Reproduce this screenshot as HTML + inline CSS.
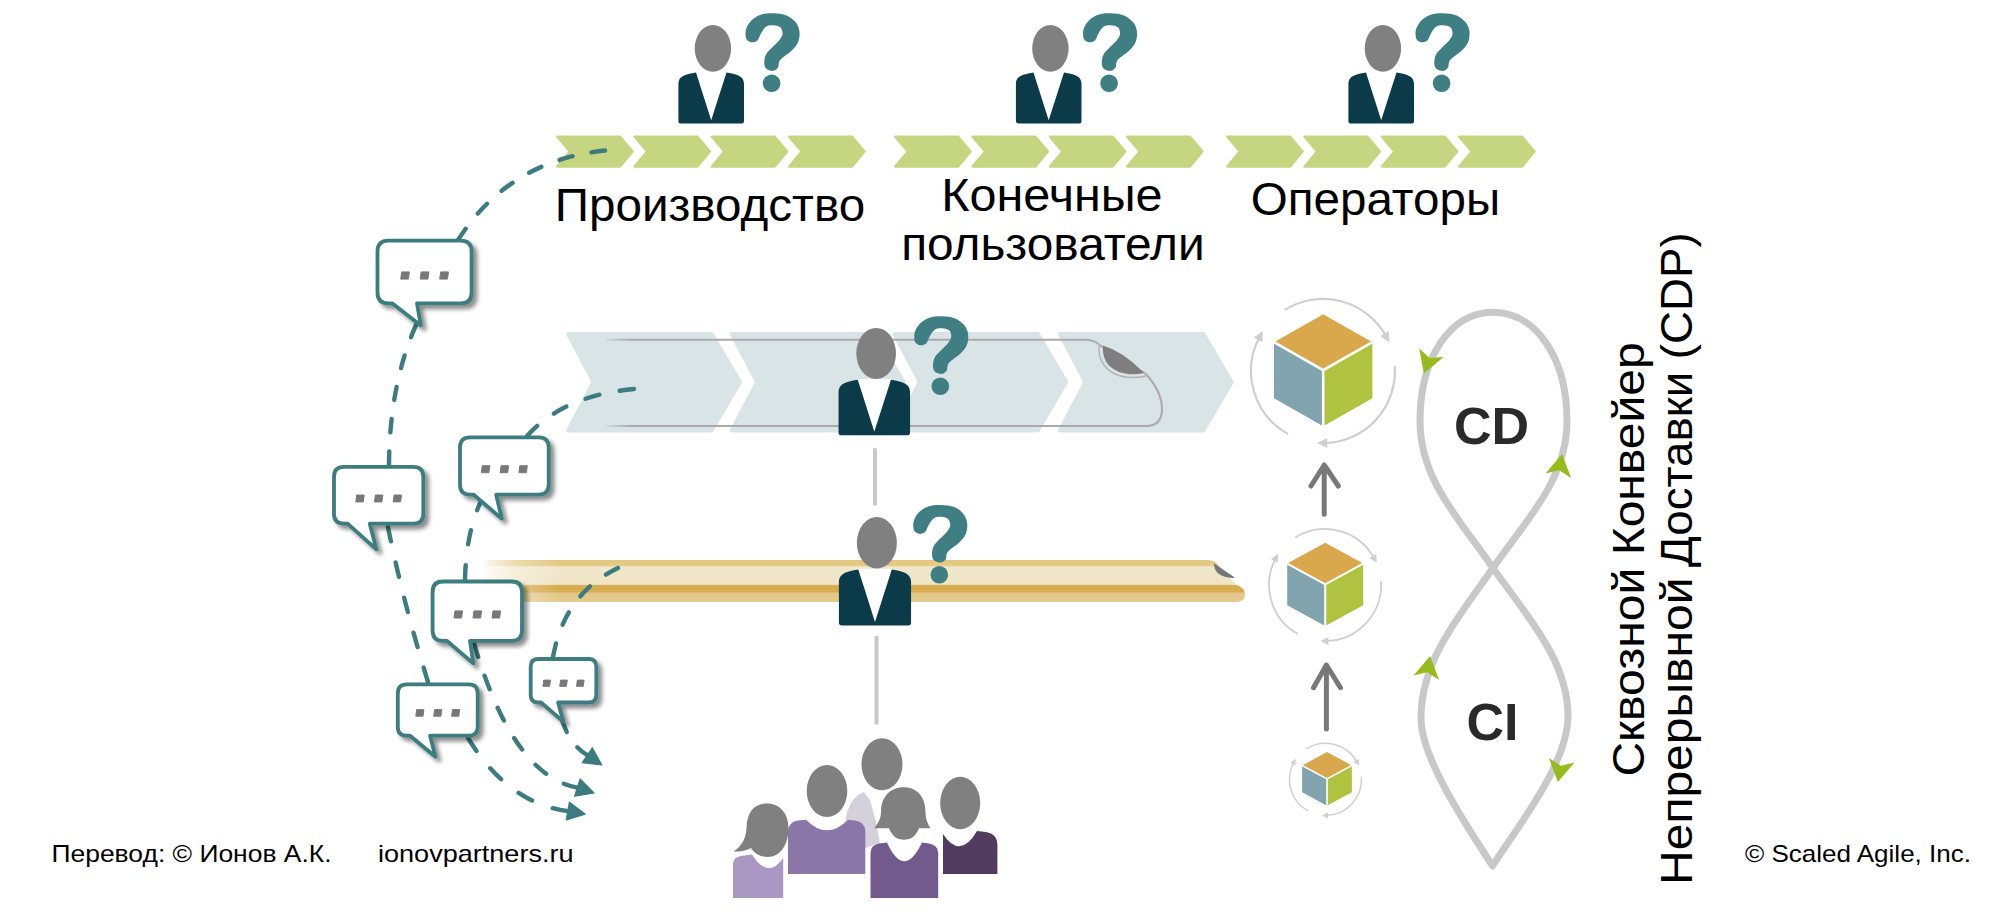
<!DOCTYPE html><html><head><meta charset="utf-8"><style>html,body{margin:0;padding:0;background:#fff;overflow:hidden}svg{display:block}text{font-family:"Liberation Sans",sans-serif}</style></head><body>
<svg width="2000" height="917" viewBox="0 0 2000 917">
<defs><filter id="sh" x="-20%" y="-20%" width="150%" height="150%"><feGaussianBlur in="SourceAlpha" stdDeviation="2.2"/><feOffset dx="3.5" dy="3.5" result="b"/><feComponentTransfer><feFuncA type="linear" slope="0.45"/></feComponentTransfer><feMerge><feMergeNode/><feMergeNode in="SourceGraphic"/></feMerge></filter><linearGradient id="fadeL" x1="0" x2="1"><stop offset="0" stop-color="#fff" stop-opacity="1"/><stop offset="1" stop-color="#fff" stop-opacity="0"/></linearGradient></defs>
<g transform="translate(712.3,48.4) scale(1.0)"><polygon points="-16.5,23.5 -1.1,72 14.4,23.5" fill="#fff"/><ellipse cx="0.6" cy="0" rx="18.2" ry="23.4" fill="#808080"/><path d="M -33.9,35.5 C -33.9,28.5 -28,26 -16.3,24.2 L -1.1,71.9 L 14.2,24.2 C 26,26 31.7,28.5 31.7,35.5 L 31.7,72.5 Q 31.7,75.1 29,75.1 L -31.2,75.1 Q -33.9,75.1 -33.9,72.5 Z" fill="#0b3a49"/></g>
<g transform="translate(745.3,12.8) scale(1.0)"><path d="M 0.40,23.30 C 0.22,21.40 -0.05,18.60 0.90,16.00 C 1.85,13.40 3.68,10.03 6.10,7.70 C 8.52,5.37 11.78,3.20 15.40,2.00 C 19.02,0.80 23.48,0.40 27.80,0.50 C 32.12,0.60 37.50,1.05 41.30,2.60 C 45.10,4.15 48.45,7.05 50.60,9.80 C 52.75,12.55 53.85,15.82 54.20,19.10 C 54.55,22.38 53.98,26.38 52.70,29.50 C 51.42,32.62 49.27,35.05 46.50,37.80 C 43.73,40.55 38.27,43.93 36.10,46.00 C 33.93,48.07 34.02,48.82 33.50,50.20 C 32.98,51.58 33.60,53.10 33.00,54.30 C 32.40,55.50 31.10,56.78 29.90,57.40 C 28.70,58.02 27.35,58.33 25.80,58.00 C 24.25,57.67 21.73,56.70 20.60,55.40 C 19.47,54.10 19.00,52.45 19.00,50.20 C 19.00,47.95 19.30,44.48 20.60,41.90 C 21.90,39.32 24.57,37.12 26.80,34.70 C 29.03,32.28 32.27,29.65 34.00,27.40 C 35.73,25.15 37.02,23.35 37.20,21.20 C 37.38,19.05 36.67,15.97 35.10,14.50 C 33.53,13.03 30.22,12.48 27.80,12.40 C 25.38,12.32 22.67,12.53 20.60,14.00 C 18.53,15.47 16.78,18.97 15.40,21.20 C 14.02,23.43 13.68,26.02 12.30,27.40 C 10.92,28.78 8.82,29.50 7.10,29.50 C 5.38,29.50 3.12,28.43 2.00,27.40 C 0.88,26.37 0.58,25.20 0.40,23.30 Z" fill="#3f7e82"/><circle cx="26.3" cy="70.4" r="8.8" fill="#3f7e82"/></g>
<polygon points="557.3,136.7 620.1,136.7 632.6,151.6 620.1,166.6 557.3,166.6 569.8,151.6" fill="#c6d580" stroke="#c6d580" stroke-width="2.4" stroke-linejoin="round"/><polygon points="634.6,136.7 697.4,136.7 709.9,151.6 697.4,166.6 634.6,166.6 647.1,151.6" fill="#c6d580" stroke="#c6d580" stroke-width="2.4" stroke-linejoin="round"/><polygon points="711.9,136.7 774.7,136.7 787.2,151.6 774.7,166.6 711.9,166.6 724.4,151.6" fill="#c6d580" stroke="#c6d580" stroke-width="2.4" stroke-linejoin="round"/><polygon points="789.2,136.7 852.0,136.7 864.5,151.6 852.0,166.6 789.2,166.6 801.7,151.6" fill="#c6d580" stroke="#c6d580" stroke-width="2.4" stroke-linejoin="round"/>
<g transform="translate(1049.8,48.4) scale(1.0)"><polygon points="-16.5,23.5 -1.1,72 14.4,23.5" fill="#fff"/><ellipse cx="0.6" cy="0" rx="18.2" ry="23.4" fill="#808080"/><path d="M -33.9,35.5 C -33.9,28.5 -28,26 -16.3,24.2 L -1.1,71.9 L 14.2,24.2 C 26,26 31.7,28.5 31.7,35.5 L 31.7,72.5 Q 31.7,75.1 29,75.1 L -31.2,75.1 Q -33.9,75.1 -33.9,72.5 Z" fill="#0b3a49"/></g>
<g transform="translate(1082.8,12.8) scale(1.0)"><path d="M 0.40,23.30 C 0.22,21.40 -0.05,18.60 0.90,16.00 C 1.85,13.40 3.68,10.03 6.10,7.70 C 8.52,5.37 11.78,3.20 15.40,2.00 C 19.02,0.80 23.48,0.40 27.80,0.50 C 32.12,0.60 37.50,1.05 41.30,2.60 C 45.10,4.15 48.45,7.05 50.60,9.80 C 52.75,12.55 53.85,15.82 54.20,19.10 C 54.55,22.38 53.98,26.38 52.70,29.50 C 51.42,32.62 49.27,35.05 46.50,37.80 C 43.73,40.55 38.27,43.93 36.10,46.00 C 33.93,48.07 34.02,48.82 33.50,50.20 C 32.98,51.58 33.60,53.10 33.00,54.30 C 32.40,55.50 31.10,56.78 29.90,57.40 C 28.70,58.02 27.35,58.33 25.80,58.00 C 24.25,57.67 21.73,56.70 20.60,55.40 C 19.47,54.10 19.00,52.45 19.00,50.20 C 19.00,47.95 19.30,44.48 20.60,41.90 C 21.90,39.32 24.57,37.12 26.80,34.70 C 29.03,32.28 32.27,29.65 34.00,27.40 C 35.73,25.15 37.02,23.35 37.20,21.20 C 37.38,19.05 36.67,15.97 35.10,14.50 C 33.53,13.03 30.22,12.48 27.80,12.40 C 25.38,12.32 22.67,12.53 20.60,14.00 C 18.53,15.47 16.78,18.97 15.40,21.20 C 14.02,23.43 13.68,26.02 12.30,27.40 C 10.92,28.78 8.82,29.50 7.10,29.50 C 5.38,29.50 3.12,28.43 2.00,27.40 C 0.88,26.37 0.58,25.20 0.40,23.30 Z" fill="#3f7e82"/><circle cx="26.3" cy="70.4" r="8.8" fill="#3f7e82"/></g>
<polygon points="895.3,136.7 958.1,136.7 970.6,151.6 958.1,166.6 895.3,166.6 907.8,151.6" fill="#c6d580" stroke="#c6d580" stroke-width="2.4" stroke-linejoin="round"/><polygon points="972.6,136.7 1035.4,136.7 1047.9,151.6 1035.4,166.6 972.6,166.6 985.1,151.6" fill="#c6d580" stroke="#c6d580" stroke-width="2.4" stroke-linejoin="round"/><polygon points="1049.9,136.7 1112.7,136.7 1125.2,151.6 1112.7,166.6 1049.9,166.6 1062.4,151.6" fill="#c6d580" stroke="#c6d580" stroke-width="2.4" stroke-linejoin="round"/><polygon points="1127.2,136.7 1190.0,136.7 1202.5,151.6 1190.0,166.6 1127.2,166.6 1139.7,151.6" fill="#c6d580" stroke="#c6d580" stroke-width="2.4" stroke-linejoin="round"/>
<g transform="translate(1382.3,48.4) scale(1.0)"><polygon points="-16.5,23.5 -1.1,72 14.4,23.5" fill="#fff"/><ellipse cx="0.6" cy="0" rx="18.2" ry="23.4" fill="#808080"/><path d="M -33.9,35.5 C -33.9,28.5 -28,26 -16.3,24.2 L -1.1,71.9 L 14.2,24.2 C 26,26 31.7,28.5 31.7,35.5 L 31.7,72.5 Q 31.7,75.1 29,75.1 L -31.2,75.1 Q -33.9,75.1 -33.9,72.5 Z" fill="#0b3a49"/></g>
<g transform="translate(1415.3,12.8) scale(1.0)"><path d="M 0.40,23.30 C 0.22,21.40 -0.05,18.60 0.90,16.00 C 1.85,13.40 3.68,10.03 6.10,7.70 C 8.52,5.37 11.78,3.20 15.40,2.00 C 19.02,0.80 23.48,0.40 27.80,0.50 C 32.12,0.60 37.50,1.05 41.30,2.60 C 45.10,4.15 48.45,7.05 50.60,9.80 C 52.75,12.55 53.85,15.82 54.20,19.10 C 54.55,22.38 53.98,26.38 52.70,29.50 C 51.42,32.62 49.27,35.05 46.50,37.80 C 43.73,40.55 38.27,43.93 36.10,46.00 C 33.93,48.07 34.02,48.82 33.50,50.20 C 32.98,51.58 33.60,53.10 33.00,54.30 C 32.40,55.50 31.10,56.78 29.90,57.40 C 28.70,58.02 27.35,58.33 25.80,58.00 C 24.25,57.67 21.73,56.70 20.60,55.40 C 19.47,54.10 19.00,52.45 19.00,50.20 C 19.00,47.95 19.30,44.48 20.60,41.90 C 21.90,39.32 24.57,37.12 26.80,34.70 C 29.03,32.28 32.27,29.65 34.00,27.40 C 35.73,25.15 37.02,23.35 37.20,21.20 C 37.38,19.05 36.67,15.97 35.10,14.50 C 33.53,13.03 30.22,12.48 27.80,12.40 C 25.38,12.32 22.67,12.53 20.60,14.00 C 18.53,15.47 16.78,18.97 15.40,21.20 C 14.02,23.43 13.68,26.02 12.30,27.40 C 10.92,28.78 8.82,29.50 7.10,29.50 C 5.38,29.50 3.12,28.43 2.00,27.40 C 0.88,26.37 0.58,25.20 0.40,23.30 Z" fill="#3f7e82"/><circle cx="26.3" cy="70.4" r="8.8" fill="#3f7e82"/></g>
<polygon points="1227.3,136.7 1290.1,136.7 1302.6,151.6 1290.1,166.6 1227.3,166.6 1239.8,151.6" fill="#c6d580" stroke="#c6d580" stroke-width="2.4" stroke-linejoin="round"/><polygon points="1304.6,136.7 1367.4,136.7 1379.9,151.6 1367.4,166.6 1304.6,166.6 1317.1,151.6" fill="#c6d580" stroke="#c6d580" stroke-width="2.4" stroke-linejoin="round"/><polygon points="1381.9,136.7 1444.7,136.7 1457.2,151.6 1444.7,166.6 1381.9,166.6 1394.4,151.6" fill="#c6d580" stroke="#c6d580" stroke-width="2.4" stroke-linejoin="round"/><polygon points="1459.2,136.7 1522.0,136.7 1534.5,151.6 1522.0,166.6 1459.2,166.6 1471.7,151.6" fill="#c6d580" stroke="#c6d580" stroke-width="2.4" stroke-linejoin="round"/>
<text x="554.7" y="220.9" font-size="46" textLength="310.5" lengthAdjust="spacingAndGlyphs">Производство</text>
<text x="941.2" y="210.7" font-size="46" textLength="221.4" lengthAdjust="spacingAndGlyphs">Конечные</text>
<text x="901.2" y="259.8" font-size="46" textLength="303.4" lengthAdjust="spacingAndGlyphs">пользователи</text>
<text x="1250.8" y="215" font-size="46" textLength="249.4" lengthAdjust="spacingAndGlyphs">Операторы</text>
<polygon points="568.0999999999999,334 711.5999999999999,334 740.0,382 711.5999999999999,430.5 568.0999999999999,430.5 593.5999999999999,382" fill="#d9e4e7" stroke="#d9e4e7" stroke-width="4" stroke-linejoin="round"/>
<polygon points="731.6999999999999,334 875.2,334 903.5999999999999,382 875.2,430.5 731.6999999999999,430.5 757.1999999999999,382" fill="#d9e4e7" stroke="#d9e4e7" stroke-width="4" stroke-linejoin="round"/>
<polygon points="894.3,334 1037.8,334 1066.2,382 1037.8,430.5 894.3,430.5 919.8,382" fill="#d9e4e7" stroke="#d9e4e7" stroke-width="4" stroke-linejoin="round"/>
<polygon points="1059.8999999999999,334 1203.3999999999999,334 1231.8,382 1203.3999999999999,430.5 1059.8999999999999,430.5 1085.3999999999999,382" fill="#d9e4e7" stroke="#d9e4e7" stroke-width="4" stroke-linejoin="round"/>
<path d="M 606,339.7 L 1085,339.7 Q 1095,339.7 1101,346 L 1146,374 Q 1162,392 1162,409 Q 1162,426 1146,426 L 606,426" fill="none" stroke="#aba9aa" stroke-width="2"/>
<defs><linearGradient id="pfade" x1="600" y1="0" x2="632" y2="0" gradientUnits="userSpaceOnUse"><stop offset="0" stop-color="#d9e4e7" stop-opacity="1"/><stop offset="1" stop-color="#d9e4e7" stop-opacity="0"/></linearGradient></defs>
<rect x="600" y="336" width="32" height="7" fill="url(#pfade)"/><rect x="600" y="422.5" width="32" height="7" fill="url(#pfade)"/>
<path d="M 1099.5,344 C 1097,356 1103,369 1116,374.5 C 1126,378.5 1140,378 1147,375.5" fill="none" stroke="#b3b1b2" stroke-width="1.4"/>
<path d="M 1103,345.5 Q 1123.5,351.5 1144,373 C 1130,376.5 1114,373 1107,363 C 1103,357 1102.5,350 1103,345.5 Z" fill="#7f7f7f"/>
<defs><linearGradient id="gold" x1="0" y1="560" x2="0" y2="602" gradientUnits="userSpaceOnUse"><stop offset="0" stop-color="#e2c77f"/><stop offset="0.14" stop-color="#e4cb88"/><stop offset="0.16" stop-color="#f1e7cb"/><stop offset="0.58" stop-color="#efe4c4"/><stop offset="0.61" stop-color="#d6ab4c"/><stop offset="0.76" stop-color="#d8ae52"/><stop offset="0.79" stop-color="#e2c788"/><stop offset="1" stop-color="#e4cb8e"/></linearGradient><linearGradient id="goldfade" x1="484" y1="0" x2="560" y2="0" gradientUnits="userSpaceOnUse"><stop offset="0" stop-color="#fff" stop-opacity="0.9"/><stop offset="0.4" stop-color="#fff" stop-opacity="0.35"/><stop offset="1" stop-color="#fff" stop-opacity="0"/></linearGradient></defs>
<path d="M 484,560 L 1208,560 Q 1213,560 1216,562.5 L 1236,584.5 Q 1245,588 1245,594 Q 1245,602 1236,602 L 484,602 Z" fill="url(#gold)"/>
<path d="M 1214,563.2 L 1235,577.8 C 1226,578.5 1218,575 1215.5,570 C 1214.3,567.5 1214,565.5 1214,563.2 Z" fill="#777"/>
<rect x="470" y="555" width="90" height="50" fill="url(#goldfade)"/>
<g transform="translate(875.5,353.4) scale(1.09)"><polygon points="-16.5,23.5 -1.1,72 14.4,23.5" fill="#fff"/><ellipse cx="0.6" cy="0" rx="18.2" ry="23.4" fill="#808080"/><path d="M -33.9,35.5 C -33.9,28.5 -28,26 -16.3,24.2 L -1.1,71.9 L 14.2,24.2 C 26,26 31.7,28.5 31.7,35.5 L 31.7,72.5 Q 31.7,75.1 29,75.1 L -31.2,75.1 Q -33.9,75.1 -33.9,72.5 Z" fill="#0b3a49"/></g>
<g transform="translate(914,315.8) scale(1.0)"><path d="M 0.40,23.30 C 0.22,21.40 -0.05,18.60 0.90,16.00 C 1.85,13.40 3.68,10.03 6.10,7.70 C 8.52,5.37 11.78,3.20 15.40,2.00 C 19.02,0.80 23.48,0.40 27.80,0.50 C 32.12,0.60 37.50,1.05 41.30,2.60 C 45.10,4.15 48.45,7.05 50.60,9.80 C 52.75,12.55 53.85,15.82 54.20,19.10 C 54.55,22.38 53.98,26.38 52.70,29.50 C 51.42,32.62 49.27,35.05 46.50,37.80 C 43.73,40.55 38.27,43.93 36.10,46.00 C 33.93,48.07 34.02,48.82 33.50,50.20 C 32.98,51.58 33.60,53.10 33.00,54.30 C 32.40,55.50 31.10,56.78 29.90,57.40 C 28.70,58.02 27.35,58.33 25.80,58.00 C 24.25,57.67 21.73,56.70 20.60,55.40 C 19.47,54.10 19.00,52.45 19.00,50.20 C 19.00,47.95 19.30,44.48 20.60,41.90 C 21.90,39.32 24.57,37.12 26.80,34.70 C 29.03,32.28 32.27,29.65 34.00,27.40 C 35.73,25.15 37.02,23.35 37.20,21.20 C 37.38,19.05 36.67,15.97 35.10,14.50 C 33.53,13.03 30.22,12.48 27.80,12.40 C 25.38,12.32 22.67,12.53 20.60,14.00 C 18.53,15.47 16.78,18.97 15.40,21.20 C 14.02,23.43 13.68,26.02 12.30,27.40 C 10.92,28.78 8.82,29.50 7.10,29.50 C 5.38,29.50 3.12,28.43 2.00,27.40 C 0.88,26.37 0.58,25.20 0.40,23.30 Z" fill="#3f7e82"/><circle cx="26.3" cy="70.4" r="8.8" fill="#3f7e82"/></g>
<g transform="translate(876.2,542.8) scale(1.1)"><polygon points="-16.5,23.5 -1.1,72 14.4,23.5" fill="#fff"/><ellipse cx="0.6" cy="0" rx="18.2" ry="23.4" fill="#808080"/><path d="M -33.9,35.5 C -33.9,28.5 -28,26 -16.3,24.2 L -1.1,71.9 L 14.2,24.2 C 26,26 31.7,28.5 31.7,35.5 L 31.7,72.5 Q 31.7,75.1 29,75.1 L -31.2,75.1 Q -33.9,75.1 -33.9,72.5 Z" fill="#0b3a49"/></g>
<g transform="translate(913,504.4) scale(1.0)"><path d="M 0.40,23.30 C 0.22,21.40 -0.05,18.60 0.90,16.00 C 1.85,13.40 3.68,10.03 6.10,7.70 C 8.52,5.37 11.78,3.20 15.40,2.00 C 19.02,0.80 23.48,0.40 27.80,0.50 C 32.12,0.60 37.50,1.05 41.30,2.60 C 45.10,4.15 48.45,7.05 50.60,9.80 C 52.75,12.55 53.85,15.82 54.20,19.10 C 54.55,22.38 53.98,26.38 52.70,29.50 C 51.42,32.62 49.27,35.05 46.50,37.80 C 43.73,40.55 38.27,43.93 36.10,46.00 C 33.93,48.07 34.02,48.82 33.50,50.20 C 32.98,51.58 33.60,53.10 33.00,54.30 C 32.40,55.50 31.10,56.78 29.90,57.40 C 28.70,58.02 27.35,58.33 25.80,58.00 C 24.25,57.67 21.73,56.70 20.60,55.40 C 19.47,54.10 19.00,52.45 19.00,50.20 C 19.00,47.95 19.30,44.48 20.60,41.90 C 21.90,39.32 24.57,37.12 26.80,34.70 C 29.03,32.28 32.27,29.65 34.00,27.40 C 35.73,25.15 37.02,23.35 37.20,21.20 C 37.38,19.05 36.67,15.97 35.10,14.50 C 33.53,13.03 30.22,12.48 27.80,12.40 C 25.38,12.32 22.67,12.53 20.60,14.00 C 18.53,15.47 16.78,18.97 15.40,21.20 C 14.02,23.43 13.68,26.02 12.30,27.40 C 10.92,28.78 8.82,29.50 7.10,29.50 C 5.38,29.50 3.12,28.43 2.00,27.40 C 0.88,26.37 0.58,25.20 0.40,23.30 Z" fill="#3f7e82"/><circle cx="26.3" cy="70.4" r="8.8" fill="#3f7e82"/></g>
<rect x="873" y="448.3" width="4" height="57.2" fill="#c9c9c9"/>
<rect x="874.5" y="635.8" width="4" height="88.6" fill="#c9c9c9"/>
<g><path d="M 845.7,848 L 845.7,818 Q 849,802 858,795 L 864,792 L 870,800 L 876,822 L 880,843 L 866,848 Z" fill="#d5d1da"/><ellipse cx="882" cy="764.3" rx="20.5" ry="26" fill="#808080"/><path d="M 788,874 L 788,832 Q 788,822 798,820.5 L 806,819.7 Q 827,841 848,819.7 L 855,820.5 Q 865.3,822 865.3,832 L 865.3,874 Z" fill="#8b76a8"/><ellipse cx="827" cy="791" rx="20.3" ry="26" fill="#808080"/><path d="M 733,898 L 733,864 Q 733,857.5 741,856 L 752,854.5 Q 768,880 783.2,858 L 783.2,898 Z" fill="#aa96c2"/><path d="M 767,803.5 C 780,803.5 788.5,814 788.5,828 C 788.5,845 780,857 768,857 C 760,857 754,853 751,848 C 745,851 739,852 733.6,851.5 C 742,846 746,838 746.5,828 C 747,812 754,803.5 767,803.5 Z" fill="#808080"/><path d="M 943,874 L 943,834 Q 960,860 977,831 L 986,832 Q 997.4,834 997.4,845 L 997.4,874 Z" fill="#513c5f"/><ellipse cx="960.2" cy="803" rx="20" ry="26.2" fill="#808080"/><path d="M 870.5,897.9 L 870.5,853 Q 870.5,845 879,843.5 L 887,842.6 Q 904,880 922,842.6 L 929,843.5 Q 938.2,845 938.2,853 L 938.2,897.9 Z" fill="#735a8c"/><path d="M 903.9,787.2 C 918,787.2 925.5,798 925.5,812 C 925.5,820 928.5,825 930.6,828.2 L 919,828.2 C 916,836 911,839.7 903.9,839.7 C 897,839.7 892,836 889,828.2 L 874.3,828.2 C 876.5,825 881,820 881,812 C 881,798 889,787.2 903.9,787.2 Z" fill="#808080"/></g>
<path d="M 1284.8,309.9 A 72,72 0 0 1 1386.0,336.1" fill="none" stroke="#cfcfcf" stroke-width="2.2"/><path d="M 1394.8,366.0 A 72,72 0 0 1 1324.3,443.0" fill="none" stroke="#cfcfcf" stroke-width="2.2"/><path d="M 1288.1,434.0 A 72,72 0 0 1 1259.4,337.2" fill="none" stroke="#cfcfcf" stroke-width="2.2"/><polygon points="1389.4,342.2 1380.1,335.9 1388.9,331.0" fill="#cfcfcf"/><polygon points="1317.3,443.1 1327.2,437.9 1327.3,447.9" fill="#cfcfcf"/><polygon points="1262.7,331.0 1262.4,342.2 1253.6,337.5" fill="#cfcfcf"/>
<polygon points="1323.2,314.2 1372.4,342.2 1323.2,370.2 1274.0,342.2" fill="#d9a84c"/><polygon points="1274.0,342.2 1323.2,370.2 1323.2,426.2 1274.0,398.2" fill="#81a4ae"/><polygon points="1372.4,342.2 1323.2,370.2 1323.2,426.2 1372.4,398.2" fill="#b0c340"/><path d="M 1274.0,342.2 L 1323.2,370.2 L 1372.4,342.2 M 1323.2,370.2 L 1323.2,426.2" fill="none" stroke="#fff" stroke-width="2.6" stroke-linejoin="miter"/>
<path d="M 1295.3,537.5 A 56,56 0 0 1 1374.0,557.9" fill="none" stroke="#cfcfcf" stroke-width="1.8"/><path d="M 1380.9,581.1 A 56,56 0 0 1 1326.0,641.0" fill="none" stroke="#cfcfcf" stroke-width="1.8"/><path d="M 1297.9,634.0 A 56,56 0 0 1 1275.6,558.7" fill="none" stroke="#cfcfcf" stroke-width="1.8"/><polygon points="1376.7,562.7 1369.3,557.7 1376.3,553.8" fill="#cfcfcf"/><polygon points="1320.4,641.1 1328.3,637.0 1328.4,644.9" fill="#cfcfcf"/><polygon points="1278.2,553.8 1278.0,562.7 1270.9,559.0" fill="#cfcfcf"/>
<polygon points="1325.2,542.7 1363.2,563.5500000000001 1325.2,584.4000000000001 1287.2,563.5500000000001" fill="#d9a84c"/><polygon points="1287.2,563.5500000000001 1325.2,584.4000000000001 1325.2,626.1 1287.2,605.25" fill="#81a4ae"/><polygon points="1363.2,563.5500000000001 1325.2,584.4000000000001 1325.2,626.1 1363.2,605.25" fill="#b0c340"/><path d="M 1287.2,563.5500000000001 L 1325.2,584.4000000000001 L 1363.2,563.5500000000001 M 1325.2,584.4000000000001 L 1325.2,626.1" fill="none" stroke="#fff" stroke-width="2.1" stroke-linejoin="miter"/>
<path d="M 1306.4,748.9 A 36,36 0 0 1 1357.0,761.9" fill="none" stroke="#cfcfcf" stroke-width="1.5"/><path d="M 1361.4,776.9 A 36,36 0 0 1 1326.1,815.4" fill="none" stroke="#cfcfcf" stroke-width="1.5"/><path d="M 1308.0,810.9 A 36,36 0 0 1 1293.7,762.5" fill="none" stroke="#cfcfcf" stroke-width="1.5"/><polygon points="1359.0,765.6 1353.5,761.8 1358.7,758.9" fill="#cfcfcf"/><polygon points="1321.9,815.5 1327.9,812.4 1328.0,818.4" fill="#cfcfcf"/><polygon points="1295.7,758.8 1295.5,765.5 1290.2,762.7" fill="#cfcfcf"/>
<polygon points="1327,752 1351.9,765.45 1327,778.9 1302.1,765.45" fill="#d9a84c"/><polygon points="1302.1,765.45 1327,778.9 1327,805.8 1302.1,792.3499999999999" fill="#81a4ae"/><polygon points="1351.9,765.45 1327,778.9 1327,805.8 1351.9,792.3499999999999" fill="#b0c340"/><path d="M 1302.1,765.45 L 1327,778.9 L 1351.9,765.45 M 1327,778.9 L 1327,805.8" fill="none" stroke="#fff" stroke-width="1.6" stroke-linejoin="miter"/>
<path d="M 1324.2,514.3 L 1324.2,466 M 1311,486 L 1324.2,465 L 1338.3,486" fill="none" stroke="#787878" stroke-width="5" stroke-linecap="round" stroke-linejoin="round"/>
<path d="M 1326.4,729.1 L 1326.4,666 M 1313.5,687.7 L 1326.4,665 L 1340.5,687.7" fill="none" stroke="#787878" stroke-width="5" stroke-linecap="round" stroke-linejoin="round"/>
<path d="M 1493,568 C 1460,520 1420,480 1420,421 C 1420,358 1450,312.3 1493.3,312.3 C 1536,312.3 1567,358 1567,421 C 1567,480 1526,520 1493,568 C 1460,615 1421,660 1421,718 C 1421,760 1470,830 1492.5,866 C 1515,830 1568,765 1568,716 C 1568,660 1526,615 1493,568 Z" fill="none" stroke="#c8c8c8" stroke-width="7" stroke-linejoin="round"/>
<polygon points="1423.9,373.4 1419.2,348.3 1429.5,357.9 1443.6,357.1" fill="#97bb1c"/>
<polygon points="1562.1,454.1 1571.1,478.0 1559.2,470.3 1545.5,473.5" fill="#97bb1c"/>
<polygon points="1430.1,656.1 1439.1,680.0 1427.2,672.3 1413.5,675.5" fill="#97bb1c"/>
<polygon points="1557.9,781.9 1548.9,758.0 1560.8,765.7 1574.5,762.5" fill="#97bb1c"/>
<text x="1491.5" y="443.8" font-size="52" font-weight="bold" fill="#2a2a2a" text-anchor="middle">CD</text>
<text x="1492.5" y="739.8" font-size="52" font-weight="bold" fill="#2a2a2a" text-anchor="middle">CI</text>
<text transform="translate(1644.2,776.6) rotate(-90)" x="0" y="0" font-size="45" textLength="208.8" lengthAdjust="spacingAndGlyphs">Сквозной</text>
<text transform="translate(1644.2,555.3) rotate(-90)" x="0" y="0" font-size="45" textLength="212.9" lengthAdjust="spacingAndGlyphs">Конвейер</text>
<text transform="translate(1692.4,884.9) rotate(-90)" x="0" y="0" font-size="45" textLength="307.4" lengthAdjust="spacingAndGlyphs">Непрерывной</text>
<text transform="translate(1692.4,567.1) rotate(-90)" x="0" y="0" font-size="45" textLength="334.8" lengthAdjust="spacingAndGlyphs">Доставки (CDP)</text>
<text x="51.5" y="862.2" font-size="24" textLength="280" lengthAdjust="spacingAndGlyphs">Перевод: © Ионов А.К.</text>
<text x="378" y="862.2" font-size="24" textLength="195.5" lengthAdjust="spacingAndGlyphs">ionovpartners.ru</text>
<text x="1745" y="861.5" font-size="24" textLength="226" lengthAdjust="spacingAndGlyphs">© Scaled Agile,  Inc.</text>
<path d="M 458,240 Q 508.5,160.75 605,150.5" fill="none" stroke="#3c7b7f" stroke-width="4.4" stroke-linecap="round" stroke-dasharray="13.55 19.44"/>
<path d="M 389,465 Q 389.5,385 416,325" fill="none" stroke="#3c7b7f" stroke-width="4.4" stroke-linecap="round" stroke-dasharray="13.37 19.18"/>
<path d="M 428,682 Q 402,597.5 388,527" fill="none" stroke="#3c7b7f" stroke-width="4.4" stroke-linecap="round" stroke-dasharray="14.91 21.40"/>
<path d="M 567.9,811.1 Q 508,803.4 468,738" fill="none" stroke="#3c7b7f" stroke-width="4.4" stroke-linecap="round" stroke-dasharray="15.45 22.16"/>
<path d="M 527,436 Q 563.5,395.5 634,389" fill="none" stroke="#3c7b7f" stroke-width="4.4" stroke-linecap="round" stroke-dasharray="14.41 20.68"/>
<path d="M 465,580 Q 466,530 483,497" fill="none" stroke="#3c7b7f" stroke-width="4.4" stroke-linecap="round" stroke-dasharray="14.59 20.94"/>
<path d="M 577.4,787.6 Q 512.7,775.9 474,643" fill="none" stroke="#3c7b7f" stroke-width="4.4" stroke-linecap="round" stroke-dasharray="14.14 20.28"/>
<path d="M 553,657 Q 564.5,593.5 618,568" fill="none" stroke="#3c7b7f" stroke-width="4.4" stroke-linecap="round" stroke-dasharray="13.83 19.84"/>
<path d="M 587.3,755.2 Q 570,745 562,720" fill="none" stroke="#3c7b7f" stroke-width="4.4" stroke-linecap="round" stroke-dasharray="12.91 18.53"/>
<polygon points="585.1,814.1 566.3,819.9 569.4,802.2" fill="#3c7b7f" stroke="#3c7b7f" stroke-width="1.2" stroke-linejoin="round"/>
<polygon points="594.0,793.0 574.6,796.2 580.1,779.0" fill="#3c7b7f" stroke="#3c7b7f" stroke-width="1.2" stroke-linejoin="round"/>
<polygon points="601.8,765.0 582.3,762.7 592.3,747.8" fill="#3c7b7f" stroke="#3c7b7f" stroke-width="1.2" stroke-linejoin="round"/>
<path d="M 388.5,240.7 L 460.6,240.7 Q 471.6,240.7 471.6,251.7 L 471.6,292.4 Q 471.6,303.4 460.6,303.4 L 417.0,303.4 L 420.8,325.4 L 392.5,303.4 L 388.5,303.4 Q 377.5,303.4 377.5,292.4 L 377.5,251.7 Q 377.5,240.7 388.5,240.7 Z" fill="#fff" stroke="#3c7b7f" stroke-width="3.8" stroke-linejoin="round" filter="url(#sh)"/><polygon points="401.7,271.9 409.4,271.9 408.4,279.1 400.7,279.1" fill="#787878" stroke="#7a7a7a" stroke-width="1" stroke-linejoin="round"/><polygon points="421.2,271.9 428.9,271.9 427.9,279.1 420.2,279.1" fill="#787878" stroke="#7a7a7a" stroke-width="1" stroke-linejoin="round"/><polygon points="440.7,271.9 448.4,271.9 447.4,279.1 439.7,279.1" fill="#787878" stroke="#7a7a7a" stroke-width="1" stroke-linejoin="round"/>
<path d="M 343.9,466.9 L 413.4,466.9 Q 423.3,466.9 423.3,476.8 L 423.3,513.7 Q 423.3,523.6 413.4,523.6 L 369.7,523.6 L 376.4,549.4 L 347.6,523.6 L 343.9,523.6 Q 334.0,523.6 334.0,513.7 L 334.0,476.8 Q 334.0,466.9 343.9,466.9 Z" fill="#fff" stroke="#3c7b7f" stroke-width="3.8" stroke-linejoin="round" filter="url(#sh)"/><polygon points="356.7,495.0 364.2,495.0 363.2,501.9 355.8,501.9" fill="#787878" stroke="#7a7a7a" stroke-width="1" stroke-linejoin="round"/><polygon points="375.4,495.0 382.9,495.0 381.9,501.9 374.4,501.9" fill="#787878" stroke="#7a7a7a" stroke-width="1" stroke-linejoin="round"/><polygon points="394.1,495.0 401.5,495.0 400.6,501.9 393.1,501.9" fill="#787878" stroke="#7a7a7a" stroke-width="1" stroke-linejoin="round"/>
<path d="M 470.1,437.3 L 538.6,437.3 Q 548.7,437.3 548.7,447.4 L 548.7,484.6 Q 548.7,494.7 538.6,494.7 L 496.2,494.7 L 501.8,518.7 L 473.7,494.7 L 470.1,494.7 Q 460.0,494.7 460.0,484.6 L 460.0,447.4 Q 460.0,437.3 470.1,437.3 Z" fill="#fff" stroke="#3c7b7f" stroke-width="3.8" stroke-linejoin="round" filter="url(#sh)"/><polygon points="482.3,465.7 489.8,465.7 488.9,472.7 481.4,472.7" fill="#787878" stroke="#7a7a7a" stroke-width="1" stroke-linejoin="round"/><polygon points="501.1,465.7 508.6,465.7 507.6,472.7 500.1,472.7" fill="#787878" stroke="#7a7a7a" stroke-width="1" stroke-linejoin="round"/><polygon points="519.8,465.7 527.3,465.7 526.4,472.7 518.9,472.7" fill="#787878" stroke="#7a7a7a" stroke-width="1" stroke-linejoin="round"/>
<path d="M 443.0,581.5 L 511.6,581.5 Q 522.0,581.5 522.0,591.9 L 522.0,630.4 Q 522.0,640.8 511.6,640.8 L 470.0,640.8 L 473.3,663.4 L 446.8,640.8 L 443.0,640.8 Q 432.6,640.8 432.6,630.4 L 432.6,591.9 Q 432.6,581.5 443.0,581.5 Z" fill="#fff" stroke="#3c7b7f" stroke-width="3.8" stroke-linejoin="round" filter="url(#sh)"/><polygon points="455.0,610.9 462.6,610.9 461.6,618.0 454.0,618.0" fill="#787878" stroke="#7a7a7a" stroke-width="1" stroke-linejoin="round"/><polygon points="474.0,610.9 481.6,610.9 480.6,618.0 473.0,618.0" fill="#787878" stroke="#7a7a7a" stroke-width="1" stroke-linejoin="round"/><polygon points="493.0,610.9 500.6,610.9 499.6,618.0 492.0,618.0" fill="#787878" stroke="#7a7a7a" stroke-width="1" stroke-linejoin="round"/>
<path d="M 406.8,684.4 L 468.7,684.4 Q 477.7,684.4 477.7,693.4 L 477.7,726.7 Q 477.7,735.7 468.7,735.7 L 430.1,735.7 L 435.4,756.7 L 410.1,735.7 L 406.8,735.7 Q 397.8,735.7 397.8,726.7 L 397.8,693.4 Q 397.8,684.4 406.8,684.4 Z" fill="#fff" stroke="#3c7b7f" stroke-width="3.8" stroke-linejoin="round" filter="url(#sh)"/><polygon points="416.7,709.6 423.9,709.6 423.0,716.2 415.8,716.2" fill="#787878" stroke="#7a7a7a" stroke-width="1" stroke-linejoin="round"/><polygon points="434.6,709.6 441.8,709.6 440.9,716.2 433.7,716.2" fill="#787878" stroke="#7a7a7a" stroke-width="1" stroke-linejoin="round"/><polygon points="452.5,709.6 459.7,709.6 458.8,716.2 451.6,716.2" fill="#787878" stroke="#7a7a7a" stroke-width="1" stroke-linejoin="round"/>
<path d="M 538.3,659.0 L 588.7,659.0 Q 596.3,659.0 596.3,666.6 L 596.3,694.9 Q 596.3,702.5 588.7,702.5 L 558.1,702.5 L 563.5,721.9 L 541.1,702.5 L 538.3,702.5 Q 530.7,702.5 530.7,694.9 L 530.7,666.6 Q 530.7,659.0 538.3,659.0 Z" fill="#fff" stroke="#3c7b7f" stroke-width="3.8" stroke-linejoin="round" filter="url(#sh)"/><polygon points="543.8,680.1 550.5,680.1 549.6,686.3 542.9,686.3" fill="#787878" stroke="#7a7a7a" stroke-width="1" stroke-linejoin="round"/><polygon points="560.6,680.1 567.3,680.1 566.4,686.3 559.7,686.3" fill="#787878" stroke="#7a7a7a" stroke-width="1" stroke-linejoin="round"/><polygon points="577.4,680.1 584.1,680.1 583.2,686.3 576.5,686.3" fill="#787878" stroke="#7a7a7a" stroke-width="1" stroke-linejoin="round"/>
</svg></body></html>
